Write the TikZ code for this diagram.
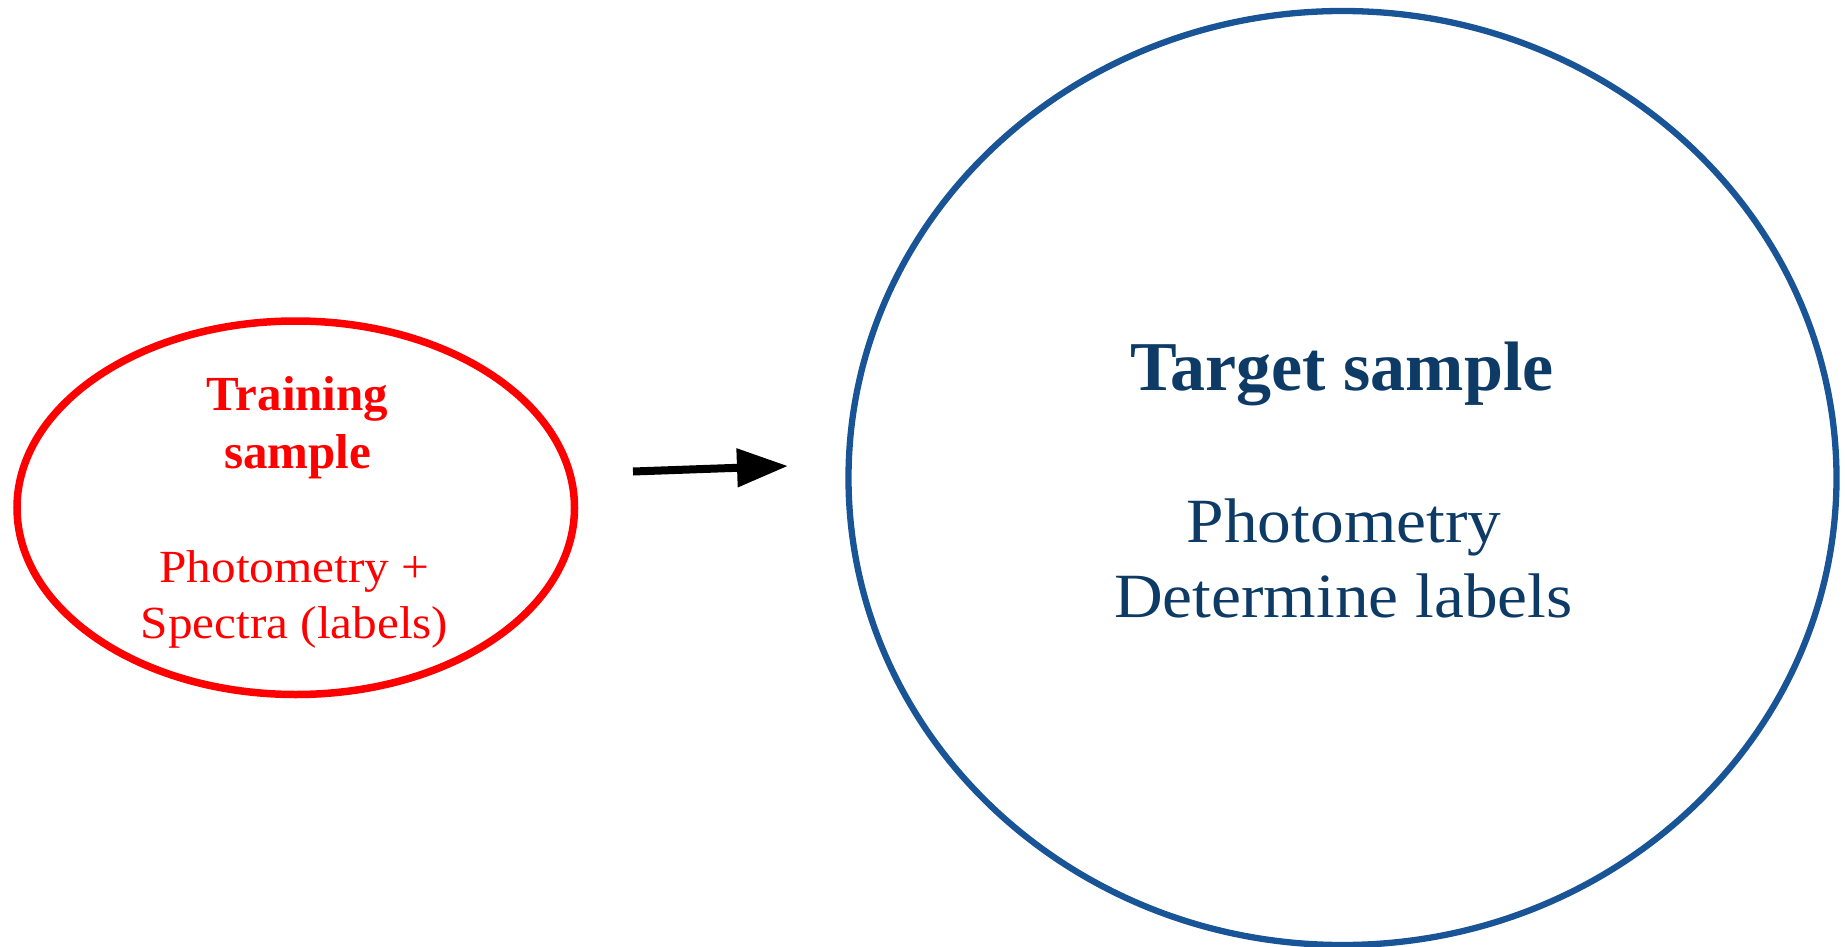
\documentclass[tikz,border=0pt]{standalone}
\usepackage{fontspec}
\setmainfont{Liberation Serif}
\newfontfamily\regfont{Liberation Serif}[FakeStretch=1.07]
\newfontfamily\boldfont{Liberation Serif Bold}
\usetikzlibrary{shapes.geometric,arrows.meta}
\definecolor{tred}{RGB}{255,0,0}
\definecolor{tblue}{RGB}{24,84,150}
\definecolor{tnavy}{RGB}{13,59,102}
\begin{document}
\begin{tikzpicture}[x=1pt,y=-1pt,
  blob/.style={ellipse,draw,inner sep=0pt,outer sep=0pt},
  txt/.style={anchor=base,inner sep=0pt}]
\useasboundingbox (0,0) rectangle (1845,947);
\node[blob,draw=tred,line width=7.5pt,minimum width=557.5pt,minimum height=373.5pt] (L) at (295.75,507.75) {};
\node[blob,draw=tblue,line width=6.3pt,minimum width=988pt,minimum height=934pt] (R) at (1342.5,478) {};
\node[txt,text=tred] (l1) at (297.5,410) {\boldfont\fontsize{49}{52}\selectfont Training};
\node[txt,text=tred] (l2) at (297.5,468) {\boldfont\fontsize{49}{52}\selectfont sample};
\node[txt,text=tred] (l3) at (294.5,582) {\regfont\fontsize{46}{50}\selectfont Photometry +};
\node[txt,text=tred] (l4) at (294.5,638) {\regfont\fontsize{46}{50}\selectfont Spectra (labels)};
\node[txt,text=tnavy] (r1) at (1342,390) {\boldfont\fontsize{70}{76}\selectfont Target sample};
\node[txt,text=tnavy] (r2) at (1344,542) {\regfont\fontsize{63}{68}\selectfont Photometry};
\node[txt,text=tnavy] (r3) at (1343.5,617) {\regfont\fontsize{63}{68}\selectfont Determine labels};
\coordinate (a1) at (633,471.5);
\coordinate (a2) at (788,466);
\draw[line width=8pt,-{Triangle[length=51pt,width=37pt]}] (a1) -- (a2);
\end{tikzpicture}
\end{document}
